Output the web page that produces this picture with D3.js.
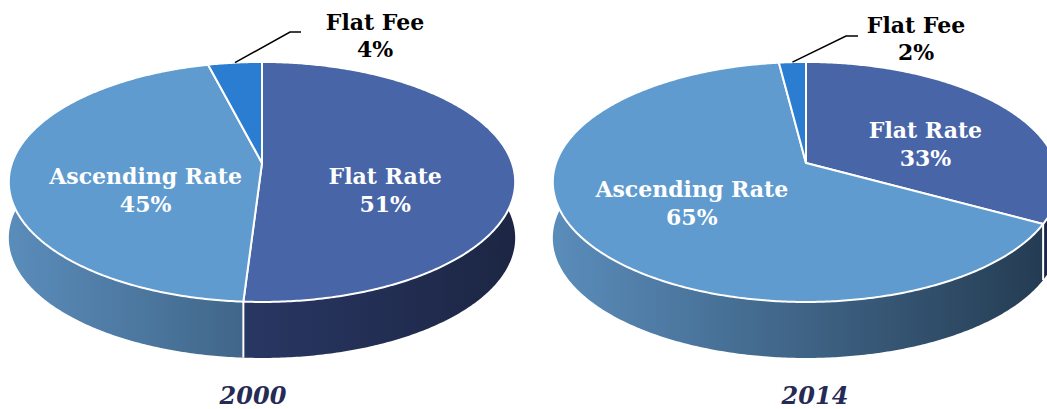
<!DOCTYPE html>
<html>
<head>
<meta charset="utf-8">
<script src="https://cdn.jsdelivr.net/npm/d3@7"></script>
<style>
  body { margin: 0; background: #fff; }
  text { font-family: "DejaVu Serif", "Liberation Serif", serif; font-weight: bold; }
</style>
</head>
<body>
<div id="chart"></div>
<script>
// data
var categories = ['Flat Rate', 'Ascending Rate', 'Flat Fee'];
var years = ['2000', '2014'];
var shares2000 = [51, 45, 4];
var shares2014 = [33, 65, 2];

// colours per category: top face, side light, side dark
var topColors = ['#4865a8', '#5f9bce', '#2b7dd2'];
var sideLight = ['#34457e', '#5a8cba', '#2a70b8'];
var sideDark = ['#1c2644', '#233a50', '#1f4f85'];

var svgWidth = 1047, svgHeight = 409;

var svg = d3.select('#chart').append('svg')
    .attr('width', svgWidth).attr('height', svgHeight);
var defs = svg.append('defs');

// perspective tilt settings
var rx = 250, ry = 117, persp = 0.158, depth = 56;

var pies = [
    {year: years[0], values: shares2000, cx: 262, cy: 163,
        nudge: [[-2, 26], [9, 22]], feeText: [375, 22], leader: [[290, 32], [301, 32]]},
    {year: years[1], values: shares2014, cx: 806, cy: 163,
        nudge: [[16, 11], [-6, 7]], feeText: [916, 25], leader: [[846, 36], [858, 36]]}
];

var pie = d3.pie().sort(null).value(function(d) { return d; });

// project angle / radius / height onto the tilted disc
function project(p, a, r, h) {
    var u = r * Math.sin(a), v = r * Math.cos(a);
    var w = 1 + persp * v;
    return [p.cx + rx * u / w, p.cy - ry * v / w + h * depth];
}

function arcPoints(p, a0, a1, h) {
    var n = Math.max(2, Math.ceil((a1 - a0) / 0.01));
    return d3.range(n + 1).map(function(i) {
        return project(p, a0 + (a1 - a0) * i / n, 1, h);
    });
}

var line = d3.line();

pies.forEach(function(p, pi) {
    var arcs = pie(p.values);
    var g = svg.append('g');

    // side gradients
    categories.forEach(function(c, i) {
        var grad = defs.append('linearGradient')
            .attr('id', 'side' + pi + '_' + i)
            .attr('gradientUnits', 'userSpaceOnUse')
            .attr('x1', p.cx - rx).attr('x2', p.cx + rx)
            .attr('y1', 0).attr('y2', 0);
        grad.append('stop').attr('offset', 0).attr('stop-color', sideLight[i]);
        grad.append('stop').attr('offset', 1).attr('stop-color', sideDark[i]);
    });

    // outer walls
    g.selectAll('path.side').data(arcs).enter().append('path')
        .attr('class', 'side')
        .attr('fill', function(d, i) { return 'url(#side' + pi + '_' + i + ')'; })
        .attr('d', function(d) {
            var top = arcPoints(p, d.startAngle, d.endAngle, 0);
            var bot = arcPoints(p, d.startAngle, d.endAngle, 1).reverse();
            return line(top.concat(bot)) + 'Z';
        });

    // white seams on the wall where slices meet (front only)
    arcs.forEach(function(d) {
        var a = d.endAngle;
        if (Math.cos(a) < -persp && a < 2 * Math.PI - 1e-6) {
            g.append('path')
                .attr('d', line([project(p, a, 1, 0), project(p, a, 1, 1)]))
                .attr('stroke', '#fff').attr('stroke-width', 2);
        }
    });

    // top faces
    g.selectAll('path.top').data(arcs).enter().append('path')
        .attr('class', 'top')
        .attr('fill', function(d, i) { return topColors[i]; })
        .attr('stroke', '#fff').attr('stroke-width', 2).attr('stroke-linejoin', 'round')
        .attr('d', function(d) {
            var pts = [project(p, 0, 0, 0)].concat(arcPoints(p, d.startAngle, d.endAngle, 0));
            return line(pts) + 'Z';
        });

    // inner labels
    arcs.slice(0, 2).forEach(function(d, i) {
        var mid = (d.startAngle + d.endAngle) / 2;
        var pt = project(p, mid, 0.5, 0);
        var t = g.append('text')
            .attr('x', pt[0] + p.nudge[i][0]).attr('y', pt[1] + p.nudge[i][1])
            .attr('text-anchor', 'middle').attr('fill', '#fff')
            .attr('font-size', 22);
        t.append('tspan').attr('x', pt[0] + p.nudge[i][0]).attr('dy', -7).text(categories[i]);
        t.append('tspan').attr('x', pt[0] + p.nudge[i][0]).attr('dy', 28).text(d.data + '%');
    });

    // flat fee callout
    var fee = arcs[2];
    var start = project(p, (fee.startAngle + fee.endAngle) / 2, 1, 0);
    g.append('path')
        .attr('d', line([start].concat(p.leader)))
        .attr('fill', 'none').attr('stroke', '#000').attr('stroke-width', 1.5);
    var ft = g.append('text')
        .attr('text-anchor', 'middle').attr('fill', '#000').attr('font-size', 22)
        .attr('y', p.feeText[1]);
    ft.append('tspan').attr('x', p.feeText[0]).attr('dy', 8).text(categories[2]);
    ft.append('tspan').attr('x', p.feeText[0]).attr('dy', 27).text(fee.data + '%');

    // year caption
    g.append('text')
        .attr('x', p.cx - (pi === 0 ? 9 : -9)).attr('y', 404)
        .attr('text-anchor', 'middle')
        .attr('fill', '#262b55').attr('font-size', 24).attr('font-style', 'italic')
        .text(p.year);
});
</script>
</body>
</html>
